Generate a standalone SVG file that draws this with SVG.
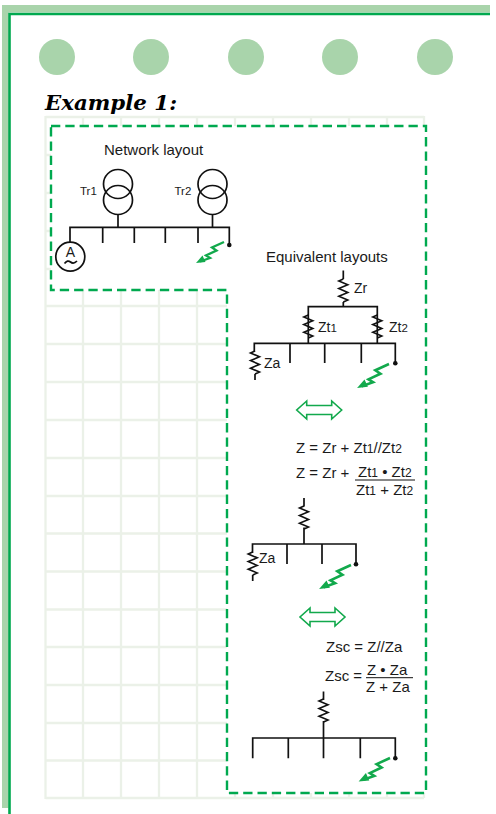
<svg xmlns="http://www.w3.org/2000/svg" width="496" height="814" viewBox="0 0 496 814">
<defs>
<style>
text{font-family:"Liberation Sans",Arial,sans-serif;fill:#1a1a1a}
.l{fill:none;stroke:#111;stroke-width:1.7}
.r{fill:none;stroke:#111;stroke-width:1.6;stroke-linejoin:miter}
.g{fill:none;stroke:#ebf1e8;stroke-width:2.300}
.d{fill:none;stroke:#00a94f;stroke-width:2.400;stroke-dasharray:9.300 5}
.a{fill:none;stroke:#12a94c;stroke-width:1.600}
.dot{fill:#a9d4ab}
.t{font-size:15px}
.n{font-size:14px}
.s{font-size:11.500px}
.u{font-size:12px}
</style>
<g id="bolt"><path d="M0 0L-12 5.500L-7.500 8.500L-18 13.500L-14 16L-24 19.500" fill="none" stroke="#12a94c" stroke-width="2.300"/><path d="M-28 21L-21.500 13.500L-18.500 20Z" fill="#12a94c"/></g>
<path id="res" d="M0 0l-4.500 2l9 3.800l-9 3.800l9 3.800l-9 3.800l9 3.800l-4.500 2" class="r"/>
<path id="dbl" d="M10 0L0 9L10 18V13.500H35V18L45 9L35 0V4.500H10Z" class="a"/>
</defs>
<g id="frame">
<path d="M2 808V5H490V12.500H8.500V808Z" fill="#a9d4ab"/>
<path d="M9.500 814V14H490" fill="none" stroke="#00a94f" stroke-width="2.600"/>
</g>
<g id="holes">
<circle class="dot" cx="57" cy="57" r="18"/><circle class="dot" cx="151" cy="57" r="18"/><circle class="dot" cx="246" cy="57" r="18"/><circle class="dot" cx="340" cy="57" r="18"/><circle class="dot" cx="435" cy="57" r="18"/>
</g>
<g id="grid">
<path class="g" d="M45.500 117H424M45.500 155H424M45.500 193H424M45.500 231H424M45.500 269H424M45.500 306H424M45.500 344H424M45.500 382H424M45.500 420H424M45.500 458H424M45.500 496H424M45.500 533.500H424M45.500 571.500H424M45.500 609.500H424M45.500 647H424M45.500 685H424M45.500 723H424M45.500 760.500H424M45.500 798H424"/>
<path class="g" d="M45.500 116V799M83 117V798M121 117V798M159 117V798M197 117V798M235 117V798M273 117V798M311 117V798M349 117V798M387 117V798M424 116V798"/>
</g>
<path id="mask" d="M51 126H426V793H227V290H51Z" fill="#fff"/>
<text x="45" y="110" textLength="132" lengthAdjust="spacingAndGlyphs" style="font-family:'DejaVu Serif',serif;font-size:20px;font-weight:bold;font-style:italic;fill:#000">Example 1:</text>
<g id="connectors">
<path class="d" d="M51 126H426V793H227V290H51Z"/>
</g>
<g id="network-layout">
<text class="t" x="104" y="155">Network layout</text>
<text class="s" x="80" y="195">Tr1</text><text class="s" x="174.500" y="195">Tr2</text>
<circle class="l" cx="118" cy="184" r="14.500"/><circle class="l" cx="118" cy="200" r="14.500"/>
<circle class="l" cx="212.500" cy="184" r="14.500"/><circle class="l" cx="212.500" cy="200" r="14.500"/>
<path class="l" d="M118 214.500V227M212.500 214.500V227M70 242.500V227.300H229.300V245M102.700 227V243M134.300 227V243M165.300 227V243M198 227V243"/>
<circle cx="229.300" cy="245" r="2.300" fill="#111"/>
<use href="#bolt" x="224" y="242"/>
<circle class="l" cx="70.300" cy="256.700" r="14.500"/>
<text x="70.300" y="257" text-anchor="middle" style="font-size:14px">A</text>
<path class="l" d="M64.500 263.500q3 -4 6 -1.500t6.500 -1"/>
</g>
<g id="equivalent-1">
<text class="t" x="266" y="262">Equivalent layouts</text>
<path class="l" d="M343.300 270.500V279M343.300 302V307M308.300 343V306.700H377.300V343M254.300 352V343.300H395.300V363M290 343V363M324.700 343V363M361.300 343V363M308.300 307V315M377.300 307V315"/>
<use href="#res" x="343.300" y="279"/><use href="#res" x="308.300" y="315"/><use href="#res" x="377.300" y="315"/>
<use href="#res" x="255" y="351"/>
<path class="l" d="M255 374V380"/>
<text class="n" x="354" y="292.500">Zr</text><text class="n" x="318" y="332">Zt<tspan class="s">1</tspan></text><text class="n" x="389" y="332">Zt<tspan class="s">2</tspan></text><text class="n" x="264" y="368">Za</text>
<circle cx="395.300" cy="363.300" r="2.300" fill="#111"/>
<use href="#bolt" transform="translate(389 364) scale(1.140)"/>
<use href="#dbl" x="296.700" y="401"/>
</g>
<g id="formula-1">
<text class="t" x="296" y="453">Z = Zr + Zt<tspan class="u">1</tspan>//Zt<tspan class="u">2</tspan></text>
<text class="t" x="296" y="478">Z = Zr + </text>
<text class="t" x="358" y="476.700">Zt<tspan class="u">1</tspan> • Zt<tspan class="u">2</tspan></text>
<path class="l" d="M355 480H415" style="stroke-width:1"/>
<text class="t" x="356" y="495">Zt<tspan class="u">1</tspan> + Zt<tspan class="u">2</tspan></text>
</g>
<g id="equivalent-2">
<path class="l" d="M304 498V506.500M304 527.500V544M252.500 553V544H356V564M287 544V564M322 544V564"/>
<use href="#res" x="304" y="506"/><use href="#res" x="252.700" y="552"/>
<path class="l" d="M252.700 575V581"/>
<text class="n" x="259" y="563">Za</text>
<circle cx="356" cy="564.300" r="2.300" fill="#111"/>
<use href="#bolt" transform="translate(351 565) scale(1.140)"/>
<use href="#dbl" x="300" y="608"/>
</g>
<g id="formula-2">
<text class="t" x="326" y="652">Zsc = Z//Za</text>
<text class="t" x="325" y="681">Zsc =</text>
<text class="t" x="367" y="675">Z • Za</text>
<path class="l" d="M366 677.700H413" style="stroke-width:1"/>
<text class="t" x="366" y="692">Z + Za</text>
</g>
<g id="equivalent-3">
<path class="l" d="M323.500 691.500V700M323.500 721V758.300M252.700 758.300V738H395.300V758M288.300 738V758.300M360.300 738V758.300"/>
<use href="#res" x="323.500" y="699"/>
<circle cx="395.300" cy="758.300" r="2.300" fill="#111"/>
<use href="#bolt" transform="translate(390 758) scale(1.120)"/>
</g>
</svg>
